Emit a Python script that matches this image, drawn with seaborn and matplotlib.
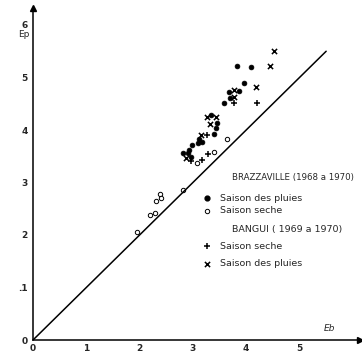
import matplotlib
matplotlib.use("Agg")
import matplotlib.pyplot as plt
import seaborn as sns
import pandas as pd

# Brazzaville - saison des pluies (filled dots)
bz_pluies_x = [3.83, 4.09, 3.96, 3.68, 3.86, 3.70, 3.58, 3.34, 3.45, 3.43, 3.40, 3.11, 3.17, 3.10, 2.98, 2.93, 2.81, 2.91, 2.96]
bz_pluies_y = [5.22, 5.20, 4.90, 4.72, 4.74, 4.61, 4.51, 4.29, 4.13, 4.04, 3.92, 3.83, 3.77, 3.75, 3.71, 3.62, 3.56, 3.56, 3.49]
# Brazzaville - saison seche (open circles)
bz_seche_x = [3.64, 3.08, 3.40, 2.81, 2.38, 2.40, 2.31, 2.20, 2.29, 1.95]
bz_seche_y = [3.83, 3.37, 3.58, 2.86, 2.78, 2.70, 2.65, 2.38, 2.42, 2.06]
# Bangui - saison seche (+)
bg_seche_x = [3.77, 4.20, 3.26, 2.96, 3.17, 3.28]
bg_seche_y = [4.51, 4.51, 3.90, 3.41, 3.43, 3.54]
# Bangui - saison des pluies (x)
bg_pluies_x = [4.52, 4.45, 4.18, 3.77, 3.77, 3.26, 3.43, 3.32, 3.15, 2.87]
bg_pluies_y = [5.50, 5.22, 4.82, 4.76, 4.63, 4.25, 4.25, 4.11, 3.90, 3.47]

line_x = [0, 5.5]
line_y = [0, 5.5]

x_ticks = [0, 1, 2, 3, 4, 5]
x_ticklabels = ["0", "1", "2", "3", "4", "5"]
y_ticks = [0, 1, 2, 3, 4, 5, 6]
y_ticklabels = ["0", ".1", "2", "3", "4", "5", "6"]

sns.set_style("white")
plt.rcParams['font.family'] = ['DejaVu Sans']

fig = plt.figure(figsize=(3.62, 3.62), dpi=100)
ax = fig.add_axes([33/362, 22/362, (360-33)/362, (340-8)/362])
ax.set_xlim(0, (360-33)/53.3)
ax.set_ylim(0, (340-8)/52.5)

sns.lineplot(x=line_x, y=line_y, ax=ax, color="black", lw=1.1)

df1 = pd.DataFrame({"x": bz_pluies_x, "y": bz_pluies_y})
df2 = pd.DataFrame({"x": bz_seche_x, "y": bz_seche_y})
df3 = pd.DataFrame({"x": bg_seche_x, "y": bg_seche_y})
df4 = pd.DataFrame({"x": bg_pluies_x, "y": bg_pluies_y})
sns.scatterplot(data=df1, x="x", y="y", ax=ax, marker="o", s=12, color="black", edgecolor="black", linewidth=0.5)
sns.scatterplot(data=df2, x="x", y="y", ax=ax, marker="o", s=10, facecolor="white", edgecolor="black", linewidth=0.7)
sns.scatterplot(data=df3, x="x", y="y", ax=ax, marker="+", s=22, color="black", linewidth=1.1)
sns.scatterplot(data=df4, x="x", y="y", ax=ax, marker="x", s=14, color="black", linewidth=1.1)

# axes style
for s in ["top", "right"]:
    ax.spines[s].set_visible(False)
for s in ["left", "bottom"]:
    ax.spines[s].set_color("black")
    ax.spines[s].set_linewidth(1.1)
ax.plot(1, 0, ">k", ms=5, transform=ax.transAxes, clip_on=False)
ax.plot(0, 1, "^k", ms=5, transform=ax.transAxes, clip_on=False)

ax.set_xticks(x_ticks)
ax.set_xticklabels(x_ticklabels, fontsize=6.5, fontweight="bold")
ax.set_yticks(y_ticks)
ax.set_yticklabels(y_ticklabels, fontsize=6.5, fontweight="bold")
ax.tick_params(axis="x", direction="in", length=4, width=1, pad=3)
ax.tick_params(axis="y", direction="out", length=3, width=1, pad=1)
ax.set_xlabel("")
ax.set_ylabel("")

ax.text(5.45, 0.17, "Eb", fontsize=6.5, style="italic")
ax.text(-0.28, 5.78, "Ep", fontsize=6.5)

# legend
fs = 6.8
ax.text(3.73, 3.10, "BRAZZAVILLE (1968 a 1970)", fontsize=6.2, va="center")
ax.scatter([3.26], [2.70], marker="o", s=12, color="black", clip_on=False)
ax.text(3.51, 2.70, "Saison des pluies", fontsize=fs, va="center")
ax.scatter([3.26], [2.46], marker="o", s=10, facecolor="white", edgecolor="black", linewidth=0.7)
ax.text(3.51, 2.46, "Saison seche", fontsize=fs, va="center")
ax.text(3.73, 2.11, "BANGUI ( 1969 a 1970)", fontsize=fs, va="center")
ax.scatter([3.26], [1.79], marker="+", s=22, color="black", linewidth=1.1)
ax.text(3.51, 1.79, "Saison seche", fontsize=fs, va="center")
ax.scatter([3.26], [1.45], marker="x", s=14, color="black", linewidth=1.1)
ax.text(3.51, 1.45, "Saison des pluies", fontsize=fs, va="center")

fig.savefig("out.png", dpi=100)
